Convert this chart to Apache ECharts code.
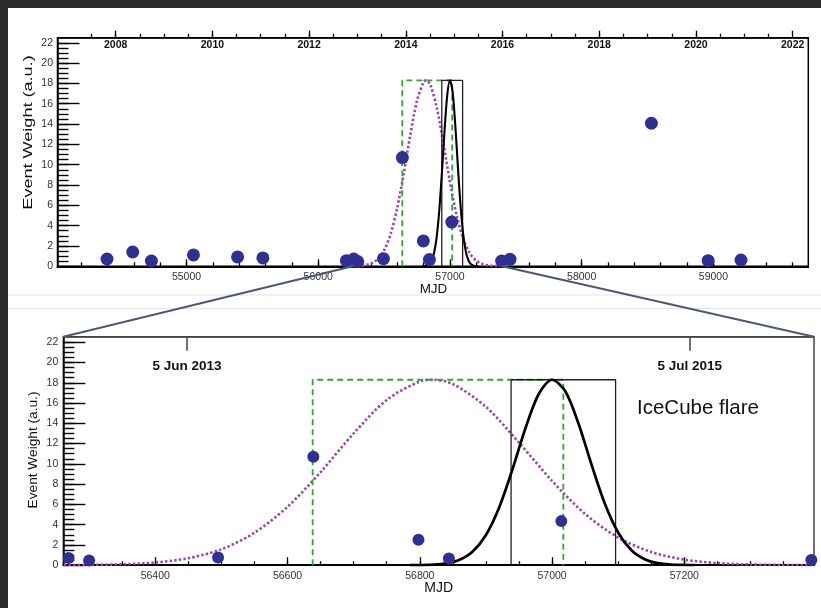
<!DOCTYPE html>
<html>
<head>
<meta charset="utf-8">
<script src="https://cdn.jsdelivr.net/npm/echarts@6/dist/echarts.min.js"></script>
<style>
  html, body { margin: 0; padding: 0; background: #ffffff; }
  #chart { width: 821px; height: 608px; }
</style>
</head>
<body>
<div id="chart"></div>
<script>
// Neutrino events: arrival time (MJD) and event weight
const eventMjd    = [54397, 54592, 54734, 55053, 55388, 55580, 56214, 56269, 56300, 56495, 56639, 56798, 56844, 57014, 57392, 57456, 58529, 58960, 59209];
const eventWeight = [0.72, 1.41, 0.52, 1.12, 0.92, 0.82, 0.55, 0.72, 0.47, 0.75, 10.7, 2.5, 0.66, 4.35, 0.52, 0.69, 14.08, 0.55, 0.62];

// IceCube flare: Gaussian time profile (solid black)
const flareFitMjd    = [56785, 56800, 56820, 56840, 56860, 56880, 56900, 56920, 56940, 56960, 56980, 57000, 57020, 57040, 57060, 57080, 57100, 57120, 57140, 57160, 57180, 57200, 57215];
const flareFitWeight = [0.00, 0.01, 0.05, 0.18, 0.53, 1.35, 2.98, 5.69, 9.44, 13.57, 16.92, 18.30, 17.16, 13.96, 9.85, 6.03, 3.20, 1.47, 0.59, 0.20, 0.06, 0.02, 0.00];

// Broad Gaussian time profile (magenta dotted)
const wideFitMjd    = [56262, 56300, 56350, 56400, 56450, 56500, 56550, 56600, 56650, 56700, 56750, 56800, 56819, 56850, 56900, 56950, 57000, 57050, 57100, 57150, 57200, 57250, 57300, 57350, 57398];
const wideFitWeight = [0.01, 0.03, 0.09, 0.27, 0.69, 1.57, 3.20, 5.76, 9.19, 13.01, 16.31, 18.14, 18.30, 17.88, 15.62, 12.10, 8.31, 5.05, 2.73, 1.30, 0.55, 0.21, 0.07, 0.02, 0.01];

// Box-shaped time windows
const boxMjd        = [56938, 56938, 57096, 57096];
const boxWeight     = [0, 18.3, 18.3, 0];
const dashBoxMjd    = [56638, 56638, 57017, 57017];
const dashBoxWeight = [0, 18.3, 18.3, 0];

// Axis ranges and tick values
const fullRange  = [54021, 59720];
const zoomRange  = [56261, 57396];
const yearRange  = [2006.797, 2022.323];
const weightMax  = 22.5;
const zoomWeightMax = 22.55;
const mjdMajorTop  = [55000, 56000, 57000, 58000, 59000];
const mjdMajorZoom = [56400, 56600, 56800, 57000, 57200];
const yearMajor    = [2008, 2010, 2012, 2014, 2016, 2018, 2020, 2022];
const weightMajor  = [0, 2, 4, 6, 8, 10, 12, 14, 16, 18, 20, 22];
const dateTickMjd  = [56448, 57208];
const dateTickText = ['5 Jun 2013', '5 Jul 2015'];

function steps(start, stop, step) {
  const out = [];
  for (let v = start; v <= stop + 1e-9; v += step) out.push(Math.round(v * 1000) / 1000);
  return out;
}
const mjdMinorTop  = steps(54200, 59600, 200);
const mjdMinorZoom = steps(56300, 57350, 50);
const yearMinor    = steps(2007.5, 2021.5, 0.5);
const weightMinor  = steps(0.5, 22, 0.5);

const zip = (xs, ys) => xs.map((x, i) => [x, ys[i]]);

const FONT = 'Liberation Sans, Arial, sans-serif';
const tickLabel = { color: '#333', fontSize: 10.5, fontFamily: FONT };

function xAxisDef(o) {
  return {
    type: 'value', gridIndex: o.grid, position: o.pos, offset: 0,
    min: o.range[0], max: o.range[1],
    axisLine: { show: o.line !== undefined, onZero: false, lineStyle: o.line || {} },
    axisTick: { show: true, inside: o.tickInside, length: o.tickLen, customValues: o.ticks,
                lineStyle: { color: o.tickColor || '#000', width: o.tickWidth || 1.3 } },
    axisLabel: o.labels ? Object.assign({ show: true, customValues: o.labels, inside: !!o.labelInside,
                margin: o.margin, formatter: o.formatter || (v => String(v)) }, o.labelStyle || tickLabel)
              : { show: false },
    splitLine: { show: false }, minorTick: { show: false }
  };
}
function yAxisDef(o) {
  return {
    type: 'value', gridIndex: o.grid, position: 'left', offset: 0,
    min: 0, max: o.max,
    axisLine: { show: o.line !== undefined, onZero: false, lineStyle: o.line || {} },
    axisTick: { show: true, inside: true, length: o.tickLen, customValues: o.ticks,
                lineStyle: { color: '#000', width: 1.4 } },
    axisLabel: o.labels ? Object.assign({ show: true, customValues: o.labels, margin: o.margin,
                formatter: v => String(v) }, tickLabel) : { show: false },
    splitLine: { show: false }, minorTick: { show: false }
  };
}

const xAxes = [
  // full time range, MJD on the bottom
  xAxisDef({ grid: 0, pos: 'bottom', range: fullRange, line: { color: '#000', width: 2 }, tickInside: true, tickLen: 7,
             ticks: mjdMajorTop, labels: mjdMajorTop, margin: 5 }),
  xAxisDef({ grid: 0, pos: 'bottom', range: fullRange, tickInside: true, tickLen: 4, ticks: mjdMinorTop }),
  // calendar years on the top
  xAxisDef({ grid: 0, pos: 'top', range: yearRange, line: { color: '#000', width: 1.5 }, tickInside: false, tickLen: 7,
             ticks: yearMajor, labels: yearMajor, labelInside: true, margin: 2,
             labelStyle: { color: '#111', fontSize: 10.5, fontWeight: 'bold', fontFamily: FONT } }),
  xAxisDef({ grid: 0, pos: 'top', range: yearRange, tickInside: false, tickLen: 4, ticks: yearMinor }),
  // zoomed range, MJD on the bottom
  xAxisDef({ grid: 1, pos: 'bottom', range: zoomRange, line: { color: '#000', width: 2 }, tickInside: true, tickLen: 8,
             ticks: mjdMajorZoom, labels: mjdMajorZoom, margin: 5.5 }),
  xAxisDef({ grid: 1, pos: 'bottom', range: zoomRange, tickInside: true, tickLen: 4, ticks: mjdMinorZoom }),
  // dates marked on the top of the zoomed range
  xAxisDef({ grid: 1, pos: 'top', range: zoomRange, line: { color: '#444', width: 1.5 }, tickInside: true, tickLen: 14,
             tickColor: '#444', tickWidth: 1.5, ticks: dateTickMjd, labels: dateTickMjd, labelInside: true, margin: 23,
             formatter: v => dateTickText[dateTickMjd.indexOf(v)],
             labelStyle: { color: '#111', fontSize: 13.5, fontWeight: 'bold', fontFamily: FONT } })
];

const yAxes = [
  yAxisDef({ grid: 0, max: weightMax, line: { color: '#000', width: 1.5 }, tickLen: 22, ticks: weightMajor, labels: weightMajor, margin: 4.5 }),
  yAxisDef({ grid: 0, max: weightMax, tickLen: 11, ticks: weightMinor }),
  yAxisDef({ grid: 1, max: zoomWeightMax, line: { color: '#000', width: 1.5 }, tickLen: 22, ticks: weightMajor, labels: weightMajor, margin: 5 }),
  yAxisDef({ grid: 1, max: zoomWeightMax, tickLen: 11, ticks: weightMinor })
];

const COLORS = { event: '#2e3192', wide: '#a23fb2', dash: '#34a534', box: '#222222', flare: '#000000' };

function panelSeries(xi, yi, flareWidth, dotSize) {
  const base = { xAxisIndex: xi, yAxisIndex: yi, silent: true, animation: false };
  return [
    Object.assign({ type: 'line', data: zip(wideFitMjd, wideFitWeight), symbol: 'none', smooth: 0.3, z: 2,
      lineStyle: { color: COLORS.wide, width: 2.6, type: [2.4, 2.2] } }, base),
    Object.assign({ type: 'line', data: zip(dashBoxMjd, dashBoxWeight), symbol: 'none', z: 3,
      lineStyle: { color: COLORS.dash, width: 1.8, type: [6, 4] } }, base),
    Object.assign({ type: 'line', data: zip(boxMjd, boxWeight), symbol: 'none', z: 4,
      lineStyle: { color: COLORS.box, width: 1.3 } }, base),
    Object.assign({ type: 'line', data: zip(flareFitMjd, flareFitWeight), symbol: 'none', smooth: 0.3, z: 5,
      lineStyle: { color: COLORS.flare, width: flareWidth } }, base),
    Object.assign({ type: 'scatter', data: zip(eventMjd, eventWeight), symbol: 'circle', symbolSize: dotSize, z: 6,
      itemStyle: { color: COLORS.event, opacity: 1 } }, base)
  ];
}

const chart = echarts.init(document.getElementById('chart'), null, { renderer: 'canvas' });
chart.setOption({
  animation: false,
  backgroundColor: '#ffffff',
  grid: [
    { left: 57.5, top: 37.7, width: 750.8, height: 228.6, show: true, borderColor: '#000', borderWidth: 1.5, outerBoundsMode: 'none' },
    { left: 63.3, top: 336.7, width: 750.7, height: 228.5, show: true, borderColor: '#444', borderWidth: 1.5, outerBoundsMode: 'none' }
  ],
  xAxis: xAxes,
  yAxis: yAxes,
  series: [].concat(panelSeries(0, 0, 2.1, 13), panelSeries(4, 2, 2.7, 12))
});

// Zoom connectors from the zoomed MJD span to the corners of the lower panel
const topLeft  = chart.convertToPixel({ xAxisIndex: 0, yAxisIndex: 0 }, [zoomRange[0], 0]);
const topRight = chart.convertToPixel({ xAxisIndex: 0, yAxisIndex: 0 }, [zoomRange[1], 0]);
const botLeft  = chart.convertToPixel({ xAxisIndex: 4, yAxisIndex: 2 }, [zoomRange[0], zoomWeightMax]);
const botRight = chart.convertToPixel({ xAxisIndex: 4, yAxisIndex: 2 }, [zoomRange[1], zoomWeightMax]);

const titleFont = '13.7px ' + FONT;
chart.setOption({
  graphic: [
    { type: 'rect', shape: { x: 0, y: 0, width: 821, height: 8 }, style: { fill: '#2a2a2a' }, z: 100, silent: true },
    { type: 'rect', shape: { x: 0, y: 0, width: 8, height: 608 }, style: { fill: '#2a2a2a' }, z: 100, silent: true },
    { type: 'line', shape: { x1: 8, y1: 295, x2: 821, y2: 295 }, style: { stroke: '#e4e4e4', lineWidth: 1 }, z: 0, silent: true },
    { type: 'line', shape: { x1: 8, y1: 308.5, x2: 821, y2: 308.5 }, style: { stroke: '#e4e4e4', lineWidth: 1 }, z: 0, silent: true },
    { type: 'line', shape: { x1: topLeft[0], y1: topLeft[1], x2: botLeft[0], y2: botLeft[1] },
      style: { stroke: '#4b5976', lineWidth: 2 }, z: 50, silent: true },
    { type: 'line', shape: { x1: topRight[0], y1: topRight[1], x2: botRight[0], y2: botRight[1] },
      style: { stroke: '#4b5976', lineWidth: 2 }, z: 50, silent: true },
    { type: 'text', x: 28.3, y: 132.5, rotation: Math.PI / 2, scaleX: 1.32, scaleY: 0.88, z: 60, silent: true,
      style: { text: 'Event Weight (a.u.)', font: titleFont, fill: '#111', textAlign: 'center', textVerticalAlign: 'middle' } },
    { type: 'text', x: 33.3, y: 450, rotation: Math.PI / 2, z: 60, silent: true,
      style: { text: 'Event Weight (a.u.)', font: titleFont, fill: '#111', textAlign: 'center', textVerticalAlign: 'middle' } },
    { type: 'text', x: 433.5, y: 290, scaleY: 0.88, z: 60, silent: true,
      style: { text: 'MJD', font: '13.5px ' + FONT, fill: '#111', textAlign: 'center', textVerticalAlign: 'middle' } },
    { type: 'text', x: 438.7, y: 588.3, z: 60, silent: true,
      style: { text: 'MJD', font: '14px ' + FONT, fill: '#111', textAlign: 'center', textVerticalAlign: 'middle' } },
    { type: 'text', x: 637, y: 408.5, z: 60, silent: true,
      style: { text: 'IceCube flare', font: '20.5px ' + FONT, fill: '#111', textAlign: 'left', textVerticalAlign: 'middle' } }
  ]
});
</script>
</body>
</html>
